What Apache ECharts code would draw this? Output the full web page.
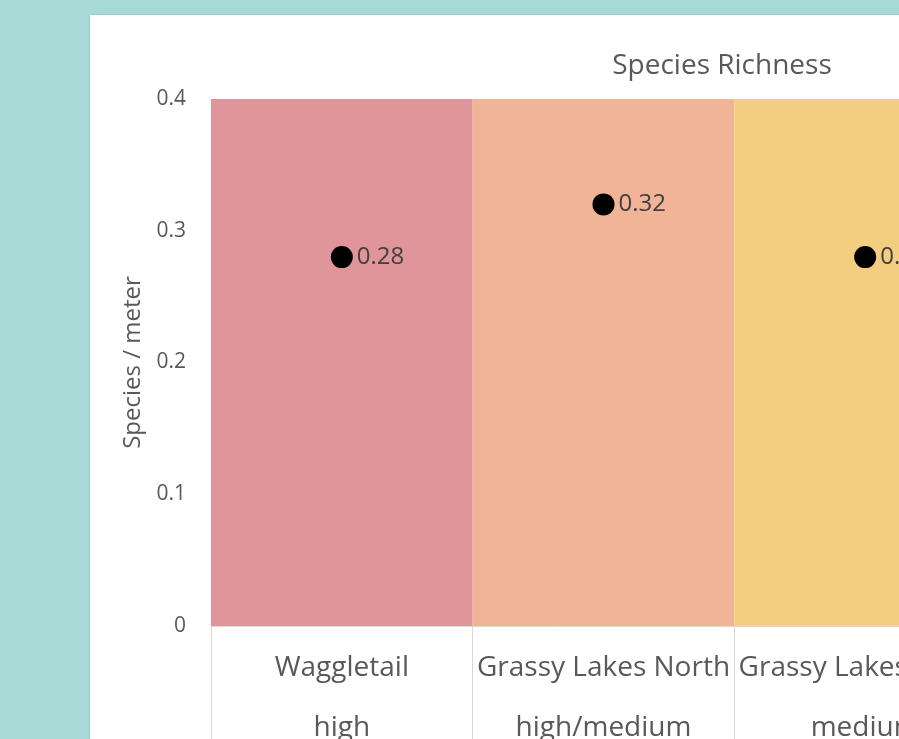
<!DOCTYPE html>
<html>
<head>
<meta charset="utf-8">
<script src="https://cdn.jsdelivr.net/npm/echarts@6/dist/echarts.min.js"></script>
<style>
  html, body { margin: 0; padding: 0; background: #a7d9d6; overflow: hidden; }
  #card { position: absolute; left: 90px; top: 15px; width: 900px; height: 800px; background: #ffffff;
          box-shadow: 0 0 2px rgba(0,0,0,0.15); }
  #chart { position: absolute; left: 0; top: 0; width: 899px; height: 739px; }
</style>
</head>
<body>
<div id="card"></div>
<div id="chart"></div>
<script>
// Sites, their disturbance level, and species richness per meter
const sites = ['Waggletail', 'Grassy Lakes North', 'Grassy Lakes South'];
const levels = ['high', 'high/medium', 'medium'];
const richness = [0.28, 0.32, 0.28];
const bandColors = ['#e0959a', '#f1b497', '#f3cd80'];
const yTicks = [0, 0.1, 0.2, 0.3, 0.4];

const categories = sites.map((s, i) => s + '\n' + levels[i]);
const yMax = yTicks[yTicks.length - 1];

const chart = echarts.init(document.getElementById('chart'), null, { renderer: 'canvas' });
const font = '"Open Sans", "Liberation Sans", sans-serif';

chart.setOption({
  backgroundColor: 'transparent',
  animation: false,
  textStyle: { fontFamily: font },
  title: {
    text: 'Species Richness',
    left: 717, top: 47,
    textAlign: 'center',
    textStyle: { fontFamily: font, fontSize: 28, fontWeight: 'normal', color: '#595959' }
  },
  grid: { left: 211, top: 99, width: 785, height: 527, containLabel: false, outerBoundsMode: 'none' },
  xAxis: {
    type: 'category',
    data: categories,
    boundaryGap: true,
    axisLine: { show: true, lineStyle: { color: '#d9d9d9', width: 1 } },
    axisTick: { show: true, length: 130, lineStyle: { color: '#d9d9d9', width: 1 } },
    axisLabel: {
      interval: 0, margin: 12,
      fontFamily: font, fontSize: 28, color: '#595959', lineHeight: 60
    },
    splitLine: { show: false }
  },
  yAxis: {
    type: 'value',
    min: 0, max: yMax, interval: 0.1,
    name: 'Species / meter',
    nameLocation: 'middle',
    nameGap: 62,
    nameTextStyle: { fontFamily: font, fontSize: 24, color: '#595959' },
    axisLine: { show: false },
    axisTick: { show: false },
    splitLine: { show: false },
    axisLabel: {
      margin: 25, fontFamily: font, fontSize: 21, color: '#595959',
      formatter: v => (v === 0 ? '0' : v.toFixed(1))
    }
  },
  series: [
    {
      type: 'bar',
      data: categories.map((c, i) => ({ value: yMax, itemStyle: { color: bandColors[i] } })),
      barWidth: '100%',
      barGap: '-100%',
      silent: true,
      z: 1
    },
    {
      type: 'scatter',
      data: richness,
      symbol: 'circle',
      symbolSize: 22,
      itemStyle: { color: '#000000', opacity: 1 },
      label: {
        show: true, position: 'right', distance: 4,
        fontFamily: font, fontSize: 24, color: '#404040',
        formatter: p => p.value.toFixed(2)
      },
      z: 3
    }
  ]
});
</script>
</body>
</html>
